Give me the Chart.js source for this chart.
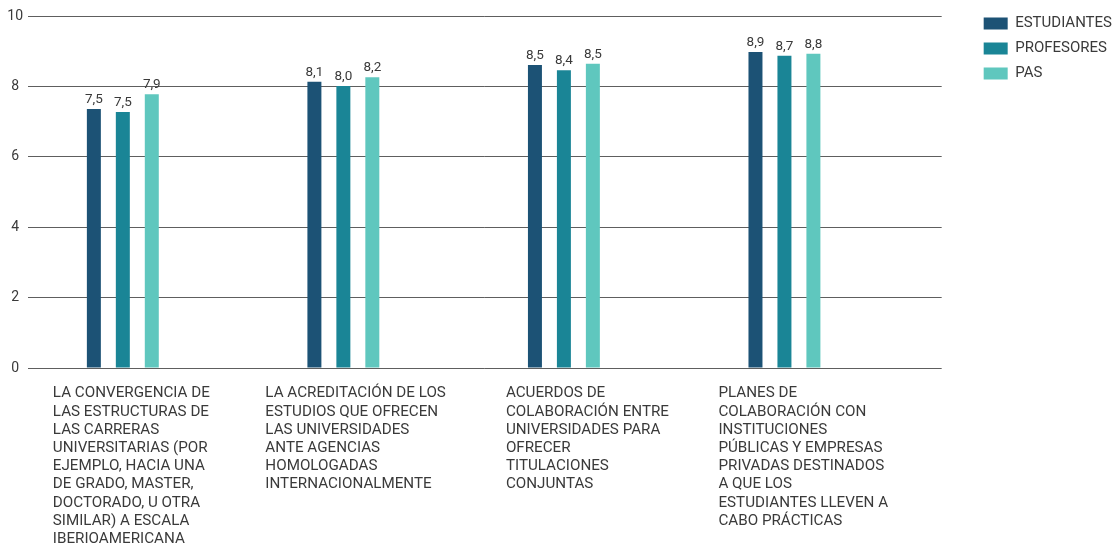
<!DOCTYPE html>
<html><head><meta charset="utf-8">
<script src="https://cdn.jsdelivr.net/npm/chart.js@4/dist/chart.umd.min.js"></script>
<style>html,body{margin:0;padding:0;background:#fff;}canvas{display:block;}</style>
</head><body>
<canvas id="c" width="1113" height="546"></canvas>
<script>
const categories = [
  ['LA CONVERGENCIA DE','LAS ESTRUCTURAS DE','LAS CARRERAS','UNIVERSITARIAS (POR','EJEMPLO, HACIA UNA','DE GRADO, MASTER,','DOCTORADO, U OTRA','SIMILAR) A ESCALA','IBERIOAMERICANA'],
  ['LA ACREDITACIÓN DE LOS','ESTUDIOS QUE OFRECEN','LAS UNIVERSIDADES','ANTE AGENCIAS','HOMOLOGADAS','INTERNACIONALMENTE'],
  ['ACUERDOS DE','COLABORACIÓN ENTRE','UNIVERSIDADES PARA','OFRECER','TITULACIONES','CONJUNTAS'],
  ['PLANES DE','COLABORACIÓN CON','INSTITUCIONES','PÚBLICAS Y EMPRESAS','PRIVADAS DESTINADOS','A QUE LOS','ESTUDIANTES LLEVEN A','CABO PRÁCTICAS']
];
const seriesNames = ['ESTUDIANTES','PROFESORES','PAS'];
const estudiantes = [7.36, 8.13, 8.61, 8.98];
const profesores  = [7.27, 8.01, 8.46, 8.87];
const pas         = [7.78, 8.26, 8.64, 8.93];
const estudiantesText = ['7,5','8,1','8,5','8,9'];
const profesoresText  = ['7,5','8,0','8,4','8,7'];
const pasText         = ['7,9','8,2','8,5','8,8'];
const yTicks = [0, 2, 4, 6, 8, 10];

const FONT = 'Roboto';
const TEXT = '#3a3a3a';
const labelShift = [-70, -78, -58, -66];

const toPoints = vals => vals.map((v, i) => ({x: i, y: v}));

const valueLabels = {
  id: 'valueLabels',
  afterDatasetsDraw(chart) {
    const ctx = chart.ctx;
    ctx.save();
    ctx.font = '13.5px ' + FONT;
    ctx.fillStyle = TEXT;
    ctx.textAlign = 'center';
    ctx.textBaseline = 'alphabetic';
    chart.data.datasets.forEach((ds, di) => {
      chart.getDatasetMeta(di).data.forEach((bar, i) => {
        ctx.fillText(ds.valueText[i], bar.x, bar.y - 6);
      });
    });
    ctx.restore();
  }
};

// category labels below the axis, left-aligned blocks under each group
const categoryLabels = {
  id: 'categoryLabels',
  afterDraw(chart) {
    const ctx = chart.ctx;
    const xs = chart.scales.x;
    const lh = 18.2;
    const top = chart.chartArea.bottom + 16.4;
    ctx.save();
    ctx.font = '15.2px ' + FONT;
    ctx.fillStyle = TEXT;
    ctx.textAlign = 'left';
    ctx.textBaseline = 'middle';
    categories.forEach((lines, i) => {
      const x = xs.getPixelForValue(i) + labelShift[i];
      lines.forEach((line, k) => ctx.fillText(line, x, top + lh / 2 + k * lh));
    });
    ctx.restore();
  }
};

const common = {borderWidth: 0, barPercentage: 0.483, categoryPercentage: 0.394};

new Chart(document.getElementById('c'), {
  type: 'bar',
  data: {
    datasets: [
      Object.assign({label: seriesNames[0], data: toPoints(estudiantes), valueText: estudiantesText, backgroundColor: '#1c5275'}, common),
      Object.assign({label: seriesNames[1], data: toPoints(profesores), valueText: profesoresText, backgroundColor: '#1a8596'}, common),
      Object.assign({label: seriesNames[2], data: toPoints(pas), valueText: pasText, backgroundColor: '#5fc7be'}, common)
    ]
  },
  options: {
    responsive: false,
    animation: false,
    devicePixelRatio: 1,
    layout: {padding: {top: 6, left: 0, right: -9, bottom: 0}},
    plugins: {
      tooltip: {enabled: false},
      legend: {
        position: 'right',
        align: 'start',
        labels: {boxWidth: 24, boxHeight: 12, padding: 10, color: TEXT, font: {family: FONT, size: 15}}
      }
    },
    scales: {
      x: {
        type: 'linear',
        position: 'bottom',
        min: -0.43,
        max: 3.713,
        bounds: 'data',
        offset: false,
        grid: {display: false, drawTicks: false},
        border: {display: false},
        afterBuildTicks: s => { s.ticks = categories.map((_, i) => ({value: i})); },
        afterFit: s => { s.height = 178; },
        ticks: {display: false}
      },
      xTop: {
        type: 'linear', position: 'top', display: true,
        grid: {display: false, drawTicks: false}, border: {display: false},
        ticks: {display: false},
        afterFit: s => { s.height = 10; }
      },
      y: {
        type: 'linear',
        min: 0, max: 10,
        afterBuildTicks: s => { s.ticks = yTicks.map(v => ({value: v})); },
        afterFit: s => { s.width = 28; },
        grid: {color: '#5e5e5e', lineWidth: 1, drawTicks: false},
        border: {display: false},
        ticks: {padding: 5, crossAlign: 'center', color: TEXT, font: {family: FONT, size: 14}}
      },
      yPad: {
        type: 'linear', position: 'right', display: true,
        grid: {display: false, drawTicks: false}, border: {display: false},
        ticks: {display: false},
        afterFit: s => { s.width = 32; }
      }
    }
  },
  plugins: [valueLabels, categoryLabels]
});
</script>
</body></html>
